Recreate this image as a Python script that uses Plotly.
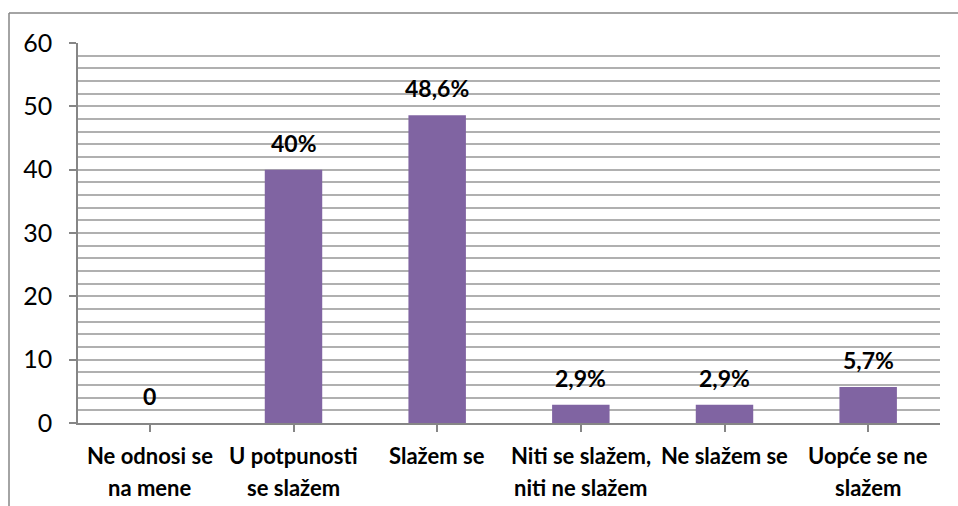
import plotly.graph_objects as go

# Survey answers (share of respondents, %)
categories = [
    "Ne odnosi se<br>na mene",
    "U potpunosti<br>se slažem",
    "Slažem se",
    "Niti se slažem,<br>niti ne slažem",
    "Ne slažem se",
    "Uopće se ne<br>slažem",
]
values = [0, 40, 48.6, 2.9, 2.9, 5.7]
y_ticks = [0, 10, 20, 30, 40, 50, 60]

BAR = "#8064A2"
AXIS = "#868686"
GRID = "#b0b0b0"
FONT = "Lato"

W, H = 958, 506
L, R, T, B = 78, 18, 43, 83
plot_h = H - T - B


def fmt(v):
    if v == 0:
        return "0"
    s = f"{v:g}".replace(".", ",")
    return s + "%"


def paper_y(py):
    return (H - B - py) / plot_h


def paper_x(px):
    return (px - L) / (W - L - R)


fig = go.Figure(
    go.Bar(
        x=list(range(len(categories))),
        y=values,
        marker=dict(color=BAR, line=dict(width=0)),
        width=0.4,
        hoverinfo="skip",
    )
)

# value labels above each bar
for i, v in enumerate(values):
    fig.add_annotation(
        x=i, y=v, xref="x", yref="y", text=f"<b>{fmt(v)}</b>",
        showarrow=False, yanchor="middle", yshift=27,
        font=dict(family=FONT, size=23, color="#000000"),
    )

# two-line category labels under the axis
for i, c in enumerate(categories):
    lines = c.split("<br>")
    for j, line in enumerate(lines):
        fig.add_annotation(
            x=i, y=paper_y(455 + 32 * j), xref="x", yref="paper",
            text=f"<b>{line}</b>", showarrow=False, yanchor="middle",
            font=dict(family=FONT, size=22, color="#000000"),
        )

# chart frame
fx, fy = paper_x(9), paper_y(13)
fig.add_shape(type="line", xref="paper", yref="paper",
              x0=fx, y0=paper_y(520), x1=fx, y1=fy,
              line=dict(color=AXIS, width=1.5))
fig.add_shape(type="line", xref="paper", yref="paper",
              x0=fx, y0=fy, x1=paper_x(970), y1=fy,
              line=dict(color=AXIS, width=1.5))

fig.update_layout(
    width=W, height=H,
    margin=dict(l=L, r=R, t=T, b=B, pad=0),
    paper_bgcolor="white", plot_bgcolor="white",
    showlegend=False,
    bargap=0.6,
    font=dict(family=FONT, color="#000000"),
)
fig.update_xaxes(
    range=[-0.5, len(categories) - 0.5],
    tickmode="array", tickvals=list(range(len(categories))),
    showticklabels=False,
    tickson="boundaries", ticks="outside", ticklen=7, tickcolor=AXIS, tickwidth=1.5,
    showline=True, linecolor=AXIS, linewidth=1.5,
    showgrid=False, zeroline=False,
)
fig.update_yaxes(
    range=[0, 60], tickmode="array", tickvals=y_ticks,
    ticktext=[str(t) for t in y_ticks],
    ticks="outside", ticklen=7, tickcolor=AXIS, tickwidth=1.5,
    ticklabelstandoff=12,
    tickfont=dict(family=FONT, size=25, color="#000000"),
    showline=True, linecolor=AXIS, linewidth=1.5,
    showgrid=True, gridcolor=GRID, gridwidth=1.5,
    minor=dict(dtick=2, showgrid=True, gridcolor=GRID, gridwidth=1.5, ticks=""),
    zeroline=False,
)

fig.write_html("out.html")
